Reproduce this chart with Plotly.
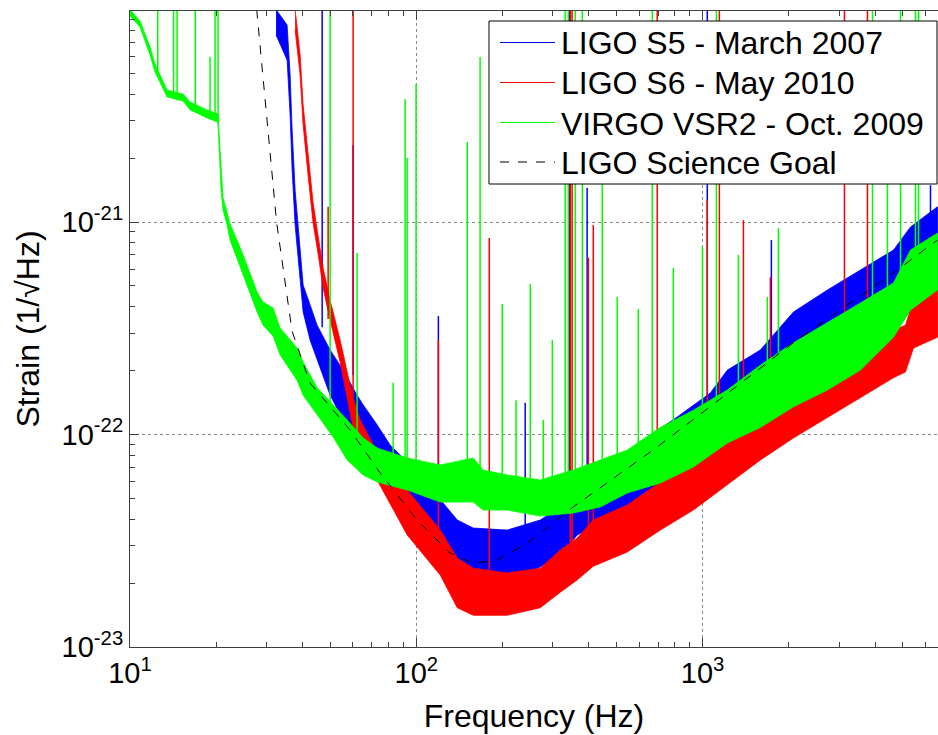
import plotly.graph_objects as go

# ---------------- data (Hz, strain 1/sqrt(Hz)) ----------------
# LIGO S5 - noise band (upper / lower envelope)
s5_freq = [32.37, 35.37, 36.24, 36.83, 37.73, 39.28, 40.24, 42.56, 45.03, 49.99,
           55.51, 62.12, 65.18, 72.95, 81.00, 100.7, 121.2, 139.0, 158.0, 207.7,
           270.9, 326.1, 365.0, 415.0, 475.8, 620.6, 815.6, 1064, 1220, 1591,
           2075, 2728, 3557, 4639, 5320, 6611]
s5_upper = [1.0e-20, 8.45e-21, 4.92e-21, 2.71e-21, 1.41e-21, 7.38e-22, 5.05e-22, 4.07e-22,
            3.27e-22, 2.50e-22, 2.01e-22, 1.53e-22, 1.38e-22, 1.11e-22, 8.92e-23, 6.66e-23,
            4.92e-23, 3.96e-23, 3.63e-23, 3.55e-23, 3.96e-23, 4.66e-23, 5.79e-23, 6.45e-23,
            7.19e-23, 9.42e-23, 1.21e-22, 1.57e-22, 2.01e-22, 2.50e-22, 3.77e-22, 4.79e-22,
            5.94e-22, 7.38e-22, 9.47e-22, 1.18e-21]
s5_lower = [7.59e-21, 5.79e-21, 3.19e-21, 1.76e-21, 9.68e-22, 5.33e-22, 3.77e-22, 2.78e-22,
            2.24e-22, 1.53e-22, 1.17e-22, 9.95e-23, 8.45e-23, 6.24e-23, 4.92e-23, 3.44e-23,
            2.57e-23, 1.92e-23, 1.85e-23, 2.07e-23, 2.38e-23, 2.80e-23, 3.37e-23, 3.67e-23,
            4.05e-23, 4.66e-23, 5.60e-23, 7.43e-23, 8.92e-23, 1.11e-22, 1.38e-22, 1.71e-22,
            2.12e-22, 2.94e-22, 3.85e-22, 4.79e-22]
# S5 narrow lines: frequency, foot, top
s5_line_freq = [46.9, 60.15, 119.4, 240.0, 343.0, 395.0, 1038, 1738, 6248]
s5_line_base = [3.2e-22, 1.9e-22, 5.0e-23, 3.7e-23, 4.5e-23, 6.0e-23, 1.5e-22, 2.4e-22, 1.0e-21]
s5_line_peak = [2e-20, 2.3e-21, 3.61e-22, 1.41e-22, 2e-20, 1.45e-21, 2e-20, 8.22e-22, 1.49e-21]

# LIGO S6
s6_freq = [37.73, 39.28, 40.24, 41.88, 43.60, 45.39, 47.26, 49.99, 54.19, 57.33,
           60.15, 63.63, 68.95, 72.95, 92.90, 121.2, 139.0, 158.0, 207.7, 270.9,
           318.3, 365.0, 415.0, 545.7, 711.6, 928.1, 1220, 1591, 2075, 2728,
           3557, 4639, 5109, 5450, 6611]
s6_upper = [1.0e-20, 6.11e-21, 3.55e-21, 2.07e-21, 1.23e-21, 8.60e-22, 6.07e-22, 4.29e-22,
            2.78e-22, 1.97e-22, 1.49e-22, 1.17e-22, 9.63e-23, 8.27e-23, 5.48e-23, 3.55e-23,
            2.62e-23, 2.35e-23, 2.23e-23, 2.35e-23, 2.86e-23, 3.26e-23, 3.96e-23, 4.66e-23,
            5.98e-23, 7.59e-23, 9.63e-23, 1.30e-22, 1.62e-22, 2.01e-22, 2.50e-22, 3.10e-22,
            3.27e-22, 4.29e-22, 4.79e-22]
s6_lower = [8.01e-21, 4.92e-21, 2.86e-21, 1.66e-21, 9.89e-22, 7.07e-22, 4.89e-22, 3.46e-22,
            2.19e-22, 1.49e-22, 1.07e-22, 8.64e-23, 7.43e-23, 6.11e-23, 3.37e-23, 2.18e-23,
            1.53e-23, 1.41e-23, 1.41e-23, 1.53e-23, 1.81e-23, 2.07e-23, 2.40e-23, 2.80e-23,
            3.55e-23, 4.41e-23, 5.79e-23, 7.59e-23, 9.63e-23, 1.20e-22, 1.49e-22, 1.85e-22,
            1.97e-22, 2.55e-22, 2.87e-22]
s6_line_freq = [49.2, 60.15, 119.4, 179.8, 345.0, 350.0, 399.0, 415.0, 694.0, 1038,
                1144, 1388, 1724, 3128, 3764]
s6_line_base = [3.5e-22, 1.5e-22, 3.6e-23, 2.3e-23, 2.5e-23, 2.5e-23, 3.5e-23, 3.8e-23,
                5.5e-23, 8.0e-23, 9.0e-23, 1.1e-22, 1.4e-22, 2.3e-22, 2.6e-22]
s6_line_peak = [1.18e-21, 2e-20, 2.79e-22, 8.41e-22, 2e-20, 2e-20, 6.78e-22, 9.68e-22,
                2e-20, 1.27e-21, 2e-20, 1.02e-21, 5.5e-22, 2e-20, 2e-20]

# VIRGO VSR2
vsr2_freq = [10.0, 10.84, 11.75, 12.23, 13.47, 15.32, 16.21, 18.58, 20.28, 20.80,
             21.13, 21.83, 22.36, 23.65, 24.83, 27.79, 29.16, 31.60, 33.43, 38.34,
             40.24, 45.03, 51.21, 57.33, 65.18, 72.95, 92.90, 121.2, 158.0, 171.2,
             207.7, 270.9, 353.4, 439.0, 545.7, 711.6, 928.1, 1220, 1591, 2075,
             2728, 3557, 4639, 5320, 6611]
vsr2_upper = [1.0e-20, 8.83e-21, 6.66e-21, 5.54e-21, 4.18e-21, 4.00e-21, 3.67e-21, 3.37e-21,
              3.22e-21, 1.96e-21, 1.30e-21, 1.11e-21, 9.79e-22, 8.23e-22, 6.99e-22, 4.68e-22,
              4.20e-22, 3.94e-22, 3.17e-22, 2.55e-22, 2.19e-22, 1.66e-22, 1.38e-22, 1.17e-22,
              9.63e-23, 8.64e-23, 7.75e-23, 7.19e-23, 7.75e-23, 6.81e-23, 6.45e-23, 6.11e-23,
              6.81e-23, 7.59e-23, 8.45e-23, 1.08e-22, 1.30e-22, 1.62e-22, 2.12e-22, 2.70e-22,
              3.35e-22, 4.16e-22, 5.16e-22, 7.38e-22, 8.87e-22]
vsr2_lower = [9.32e-21, 8.28e-21, 6.11e-21, 5.08e-21, 3.88e-21, 3.71e-21, 3.37e-21, 3.09e-21,
              2.95e-21, 1.41e-21, 1.14e-21, 9.68e-22, 8.23e-22, 6.77e-22, 5.69e-22, 3.77e-22,
              3.27e-22, 2.91e-22, 2.37e-22, 1.80e-22, 1.53e-22, 1.24e-22, 9.73e-23, 7.59e-23,
              6.45e-23, 5.98e-23, 5.48e-23, 4.81e-23, 4.81e-23, 4.41e-23, 4.41e-23, 4.13e-23,
              4.27e-23, 4.56e-23, 5.31e-23, 5.91e-23, 7.03e-23, 9.12e-23, 1.08e-22, 1.35e-22,
              1.62e-22, 2.01e-22, 2.87e-22, 3.85e-22, 4.79e-22]
vsr2_line_freq = [12.5, 14.2, 14.6, 16.9, 19.04, 19.82, 20.3, 50.0, 62.1, 83.0,
                  91.4, 92.9, 99.8, 150.6, 167.0, 199.6, 223.0, 250.0, 277.5, 298.5,
                  331.0, 339.5, 359.0, 380.0, 446.0, 503.0, 596.0, 667.0, 790.0, 998.0,
                  1117, 1333, 1683, 1839, 3920, 4420, 4910, 5538, 5674]
vsr2_line_base = [4.92e-21, 3.96e-21, 3.73e-21, 3.37e-21, 3.1e-21, 3.02e-21, 2.9e-21, 1.39e-22,
                  9.4e-23, 8.0e-23, 6.8e-23, 6.8e-23, 6.5e-23, 6.0e-23, 6.0e-23, 5.5e-23,
                  5.5e-23, 5.5e-23, 5.5e-23, 5.5e-23, 6.0e-23, 6.0e-23, 6.5e-23, 6.5e-23,
                  7.0e-23, 7.0e-23, 8.0e-23, 8.5e-23, 1.0e-22, 1.2e-22, 1.3e-22, 1.6e-22,
                  2.0e-22, 2.1e-22, 4.0e-22, 4.5e-22, 5.0e-22, 6.0e-22, 6.0e-22]
vsr2_line_peak = [2e-20, 2e-20, 2e-20, 2e-20, 6.0e-21, 2e-20, 2e-20, 2e-20,
                  7.14e-22, 1.75e-22, 3.79e-21, 2.0e-21, 4.46e-21, 2.38e-21, 5.97e-21, 4.11e-22,
                  1.45e-22, 5.1e-22, 1.17e-22, 2.79e-22, 2e-20, 2e-20, 2e-20, 2e-20,
                  1.51e-21, 4.44e-22, 3.9e-22, 2e-20, 6.08e-22, 7.62e-22, 2e-20, 7.0e-22,
                  4.44e-22, 9.37e-22, 2e-20, 2e-21, 2e-20, 2e-20, 2e-20]

# LIGO science goal
goal_freq = [27.7, 32.5, 36.8, 42.5, 58.7, 74.7, 100.6, 131.0, 158.0, 191.0,
             244.0, 353.0, 414.0, 671.0, 1061, 2070, 4624, 6589]
goal_strain = [1.0e-20, 1.0e-21, 3.07e-22, 1.75e-22, 1.05e-22, 6.6e-23, 3.96e-23, 2.77e-23,
               2.48e-23, 2.56e-23, 3.08e-23, 4.56e-23, 5.31e-23, 8.45e-23, 1.35e-22, 2.70e-22,
               5.75e-22, 8.2e-22]

series_names = ["LIGO S5 - March 2007", "LIGO S6 - May 2010",
                "VIRGO VSR2 - Oct. 2009", "LIGO Science Goal"]
series_colors = ["#0000FF", "#FF0000", "#00FF00", "black"]

x_ticks = [10, 100, 1000]
x_ticktext = ["10<sup>1</sup>", "10<sup>2</sup>", "10<sup>3</sup>"]
y_ticks = [1e-23, 1e-22, 1e-21]
y_ticktext = ["10<sup>-23</sup>", "10<sup>-22</sup>", "10<sup>-21</sup>"]

bands = [
    (s5_freq, s5_upper, s5_lower, s5_line_freq, s5_line_base, s5_line_peak),
    (s6_freq, s6_upper, s6_lower, s6_line_freq, s6_line_base, s6_line_peak),
    (vsr2_freq, vsr2_upper, vsr2_lower, vsr2_line_freq, vsr2_line_base, vsr2_line_peak),
]

fig = go.Figure()

for name, color, (f, up, lo, lf, lb, lp) in zip(series_names, series_colors, bands):
    # broadband noise floor
    fig.add_trace(go.Scatter(
        x=f + f[::-1], y=up + lo[::-1], fill="toself", fillcolor=color,
        mode="lines", line=dict(color=color, width=0.8),
        name=name, showlegend=False, hoverinfo="skip"))
    # narrow spectral lines
    sx, sy = [], []
    for fr, b, p in zip(lf, lb, lp):
        sx += [fr, fr, None]
        sy += [b, p, None]
    fig.add_trace(go.Scatter(
        x=sx, y=sy, mode="lines", name=name, showlegend=False,
        line=dict(color=color, width=1.5), hoverinfo="skip"))

fig.add_trace(go.Scatter(
    x=goal_freq, y=goal_strain, mode="lines", name=series_names[3], showlegend=False,
    line=dict(color="black", width=1, dash="dash")))

# ---------------- axes ----------------
font_family = "Liberation Sans, Arial, sans-serif"
W, H = 938, 735
M_L, M_R, M_T, M_B = 130, 0, 11, 88
axis_common = dict(
    type="log", showline=True, linecolor="#404040", linewidth=1,
    ticks="inside", ticklen=9, tickcolor="#404040",
    showgrid=True, gridcolor="#888888", griddash="dot", gridwidth=1,
    zeroline=False,
    tickfont=dict(family=font_family, size=29, color="black"),
    minor=dict(ticks="inside", ticklen=5, tickcolor="#404040", dtick="D1", showgrid=False),
)

# ---------------- legend box (boxed, upper right) ----------------
def px(xp, yp):
    """pixel position -> paper coordinates of the plotting area"""
    pw = W - M_L - M_R
    ph = H - M_T - M_B
    return (xp - M_L) / pw, (H - M_B - yp) / ph

shapes = []
annotations = []
bx0, by0 = px(489, 21)
bx1, by1 = px(937, 184)
shapes.append(dict(type="rect", xref="paper", yref="paper", x0=bx0, x1=bx1, y0=by1, y1=by0,
                   fillcolor="white", line=dict(color="black", width=1), layer="above"))
row_y = [42.5, 82.5, 122.5, 162.0]
for name, color, ry in zip(series_names, series_colors, row_y):
    lx0, ly = px(500, ry)
    lx1, _ = px(555, ry)
    shapes.append(dict(type="line", xref="paper", yref="paper", x0=lx0, x1=lx1, y0=ly, y1=ly,
                       line=dict(color=color, width=1,
                                 dash="dash" if color == "black" else "solid"),
                       layer="above"))
    tx, ty = px(559, ry + 1)
    annotations.append(dict(xref="paper", yref="paper", x=tx, y=ty, text=name,
                            xanchor="left", yanchor="middle", showarrow=False,
                            font=dict(family=font_family, size=32, color="black")))

fig.update_layout(
    width=W, height=H,
    margin=dict(l=M_L, r=M_R, t=M_T, b=M_B),
    paper_bgcolor="white", plot_bgcolor="white",
    font=dict(family=font_family, color="black"),
    xaxis=dict(axis_common, range=[1, 3.822], mirror="ticks",
               tickvals=x_ticks, ticktext=x_ticktext,
               title=dict(text="Frequency (Hz)", font=dict(size=32), standoff=16)),
    yaxis=dict(axis_common, range=[-23, -20.007], mirror=False,
               tickvals=y_ticks, ticktext=y_ticktext,
               title=dict(text="Strain (1/√Hz)", font=dict(size=32), standoff=12)),
    shapes=shapes,
    annotations=annotations,
    showlegend=False,
)

fig.write_html("out.html")
